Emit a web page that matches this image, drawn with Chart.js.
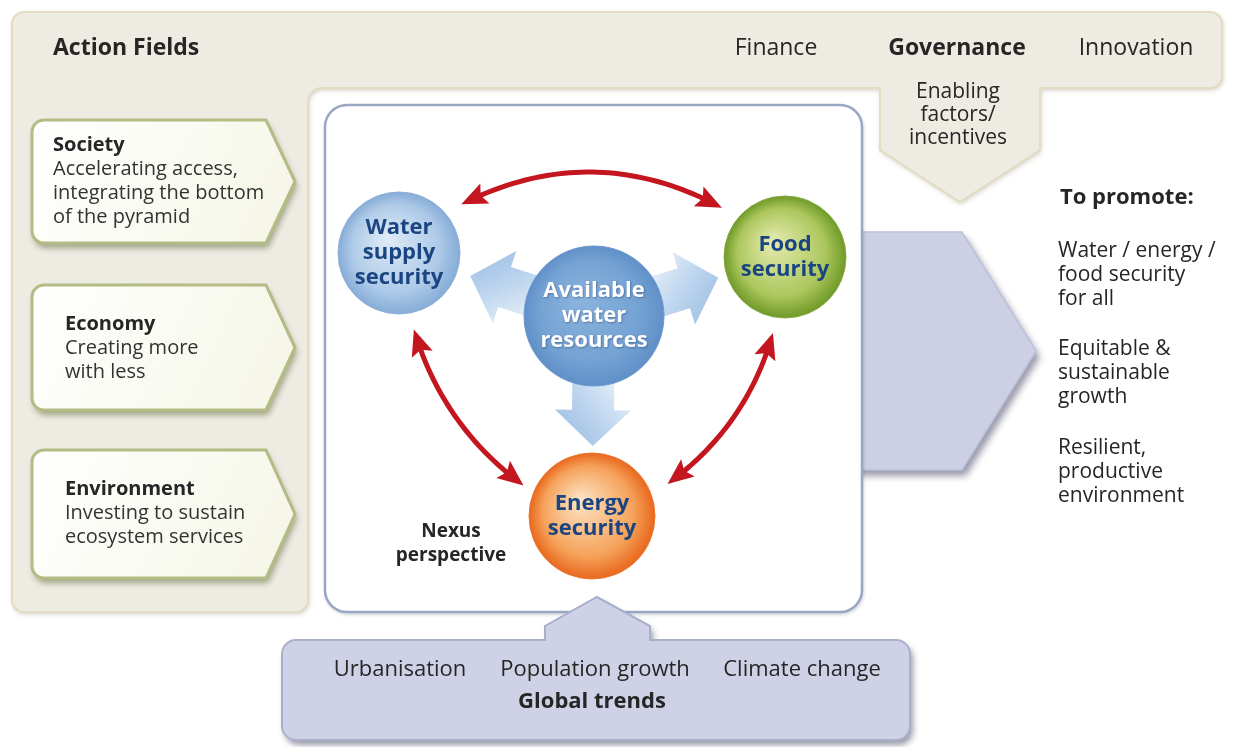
<!DOCTYPE html>
<html>
<head>
<meta charset="utf-8">
<script src="https://cdn.jsdelivr.net/npm/chart.js@4.4.1/dist/chart.umd.min.js"></script>
<style>
  html, body { margin: 0; padding: 0; background: #fff; }
  #wrap { width: 1234px; height: 747px; }
</style>
</head>
<body>
<div id="wrap"><canvas id="chart" width="1234" height="747"></canvas></div>
<script>
// Noeuds du nexus (bulles) : position dans le repère du schéma, rayon en px
const nodeNames = [["Water", "supply", "security"], ["Available", "water", "resources"], ["Food", "security"], ["Energy", "security"]];
const nodeX = [399, 594, 785, 592];
const nodeY = [253, 316, 257, 516];
const nodeR = [61, 70, 61, 63];
// doubles flèches rouges entre noeuds
const links = [[0, 2], [0, 3], [2, 3]];
// flèches pâles qui partent de la ressource en eau
const flows = [[1, 0], [1, 2], [1, 3]];

const headerTitle = "Action Fields";
const enablers = ["Finance", "Governance", "Innovation"];
const enablerNote = ["Enabling", "factors/", "incentives"];
const fieldTitles = ["Society", "Economy", "Environment"];
const fieldTexts = [["Accelerating access,", "integrating the bottom", "of the pyramid"], ["Creating more", "with less"], ["Investing to sustain", "ecosystem services"]];
const goalTitle = "To promote:";
const goals = [["Water / energy /", "food security", "for all"], ["Equitable &", "sustainable", "growth"], ["Resilient,", "productive", "environment"]];
const trends = ["Urbanisation", "Population growth", "Climate change"];
const trendTitle = "Global trends";
const nexusLabel = ["Nexus", "perspective"];

const FONT = '"Open Sans", "DejaVu Sans", sans-serif';
const TXT = '#262626';

// styles des bulles : centre clair -> bord
const nodeStops = [
  ['#dce9f6', '#aecae8', '#86acd7'],
  ['#8ab3dd', '#74a2d3', '#6090c8'],
  ['#e2e9ab', '#adc75e', '#6f9a28'],
  ['#fde0c0', '#f5a25a', '#e9671d']
];
const nodeText = ['#1a4580', '#ffffff', '#1a4580', '#1a4580'];
// extrémités des doubles flèches : angle (deg) et écart au bord de chaque bulle, courbure
const linkStyle = [
  { a0: -38, g0: 18, a1: 218, g1: 19, bend: -34 },
  { a0: 79, g0: 17, a1: 204, g1: 12, bend: 16 },
  { a0: 99, g0: 16, a1: -23, g1: 19, bend: -16 }
];

function X(chart, v) { return chart.scales.x.getPixelForValue(v); }
function Y(chart, v) { return chart.scales.y.getPixelForValue(v); }

function roundRect(ctx, x, y, w, h, r) {
  ctx.beginPath();
  ctx.moveTo(x + r, y);
  ctx.arcTo(x + w, y, x + w, y + h, r);
  ctx.arcTo(x + w, y + h, x, y + h, r);
  ctx.arcTo(x, y + h, x, y, r);
  ctx.arcTo(x, y, x + w, y, r);
  ctx.closePath();
}

function shadow(ctx, color, ox, oy, blur) {
  ctx.shadowColor = color; ctx.shadowOffsetX = ox; ctx.shadowOffsetY = oy; ctx.shadowBlur = blur;
}
function noShadow(ctx) { shadow(ctx, 'rgba(0,0,0,0)', 0, 0, 0); }

function text(ctx, s, x, y, size, bold, color, align) {
  ctx.font = (bold ? 'bold ' : '') + size + 'px ' + FONT;
  ctx.fillStyle = color;
  ctx.textAlign = align || 'left';
  ctx.textBaseline = 'middle';
  ctx.fillText(s, x, y);
}

function quad(p0, c, p2, t) {
  const u = 1 - t;
  return { x: u * u * p0.x + 2 * u * t * c.x + t * t * p2.x, y: u * u * p0.y + 2 * u * t * c.y + t * t * p2.y };
}

function head(ctx, tip, from, len, half) {
  const a = Math.atan2(tip.y - from.y, tip.x - from.x);
  const bx = tip.x - len * Math.cos(a), by = tip.y - len * Math.sin(a);
  ctx.beginPath();
  ctx.moveTo(tip.x, tip.y);
  ctx.lineTo(bx - half * Math.sin(a), by + half * Math.cos(a));
  ctx.lineTo(bx + len * 0.18 * Math.cos(a), by + len * 0.18 * Math.sin(a));
  ctx.lineTo(bx + half * Math.sin(a), by - half * Math.cos(a));
  ctx.closePath();
  ctx.fill();
}

const diagram = {
  id: 'diagram',
  beforeDatasetsDraw(chart) {
    const ctx = chart.ctx;
    const p = (x, y) => [X(chart, x), Y(chart, y)];
    ctx.save();

    // panneau beige en L (Action Fields)
    ctx.beginPath();
    const pts = [[1222, 88], [1040, 88], [1040, 150], [960, 202], [880, 150], [880, 88]];
    ctx.moveTo(...p(24, 12));
    ctx.arcTo(...p(1222, 12), ...p(1222, 88), 12);
    ctx.arcTo(...p(1222, 88), ...p(1040, 88), 12);
    pts.slice(1).forEach(q => ctx.lineTo(...p(q[0], q[1])));
    ctx.lineTo(...p(322, 88));
    ctx.arcTo(...p(308, 88), ...p(308, 612), 14);
    ctx.arcTo(...p(308, 612), ...p(12, 612), 12);
    ctx.arcTo(...p(12, 612), ...p(12, 12), 12);
    ctx.arcTo(...p(12, 12), ...p(1222, 12), 12);
    ctx.closePath();
    shadow(ctx, 'rgba(120,110,80,0.35)', 1, 2, 5);
    ctx.fillStyle = '#eeebe3';
    ctx.fill();
    noShadow(ctx);
    ctx.strokeStyle = '#e3dcc2';
    ctx.lineWidth = 2;
    ctx.stroke();

    // boîtes des champs d'action (pentagones)
    const boxes = [[120, 243], [285, 410], [450, 578]];
    boxes.forEach(b => {
      const top = b[0], bot = b[1], mid = (top + bot) / 2;
      ctx.beginPath();
      ctx.moveTo(...p(44, top));
      ctx.lineTo(...p(266, top));
      ctx.lineTo(...p(295, mid));
      ctx.lineTo(...p(266, bot));
      ctx.lineTo(...p(44, bot));
      ctx.arcTo(...p(32, bot), ...p(32, top), 12);
      ctx.arcTo(...p(32, top), ...p(266, top), 12);
      ctx.closePath();
      const g = ctx.createLinearGradient(X(chart, 32), Y(chart, top), X(chart, 295), Y(chart, bot));
      g.addColorStop(0, '#ffffff');
      g.addColorStop(1, '#f5f6e6');
      shadow(ctx, 'rgba(80,90,40,0.5)', 2, 5, 6);
      ctx.fillStyle = g;
      ctx.fill();
      noShadow(ctx);
      ctx.strokeStyle = '#b3bc84';
      ctx.lineWidth = 3;
      ctx.stroke();
    });

    // grande flèche grise vers "To promote"
    ctx.beginPath();
    ctx.moveTo(...p(850, 232));
    ctx.lineTo(...p(962, 232));
    ctx.lineTo(...p(1036, 351));
    ctx.lineTo(...p(962, 470));
    ctx.lineTo(...p(850, 470));
    ctx.closePath();
    shadow(ctx, 'rgba(70,70,100,0.55)', 4, 6, 7);
    ctx.fillStyle = '#cdd0e4';
    ctx.fill();
    noShadow(ctx);
    ctx.strokeStyle = '#bcc1da';
    ctx.lineWidth = 1.5;
    ctx.stroke();

    // cadre Nexus perspective
    roundRect(ctx, X(chart, 325), Y(chart, 105), X(chart, 862) - X(chart, 325), Y(chart, 612) - Y(chart, 105), 22);
    shadow(ctx, 'rgba(70,80,110,0.35)', 1, 2, 4);
    ctx.fillStyle = '#ffffff';
    ctx.fill();
    noShadow(ctx);
    ctx.strokeStyle = '#9aa7c3';
    ctx.lineWidth = 2.5;
    ctx.stroke();

    // boîte Global trends avec sa pointe
    ctx.beginPath();
    ctx.moveTo(...p(296, 640));
    ctx.lineTo(...p(545, 640));
    ctx.lineTo(...p(545, 626));
    ctx.lineTo(...p(597, 597));
    ctx.lineTo(...p(650, 626));
    ctx.lineTo(...p(650, 640));
    ctx.arcTo(...p(910, 640), ...p(910, 740), 14);
    ctx.arcTo(...p(910, 740), ...p(282, 740), 14);
    ctx.arcTo(...p(282, 740), ...p(282, 640), 14);
    ctx.arcTo(...p(282, 640), ...p(910, 640), 14);
    ctx.closePath();
    shadow(ctx, 'rgba(70,70,100,0.55)', 3, 5, 6);
    ctx.fillStyle = '#cfd2e6';
    ctx.fill();
    noShadow(ctx);
    ctx.strokeStyle = '#a9b0cc';
    ctx.lineWidth = 2;
    ctx.stroke();

    // flèches pâles depuis "Available water resources"
    flows.forEach(f => {
      const a = f[0], b = f[1];
      const cx = X(chart, nodeX[a]), cy = Y(chart, nodeY[a]);
      const dx = X(chart, nodeX[b]) - cx, dy = Y(chart, nodeY[b]) - cy;
      const d = Math.hypot(dx, dy), ux = dx / d, uy = dy / d, nx = -uy, ny = ux;
      const t0 = nodeR[a] - 4, t1 = nodeR[a] + 60, hl = 36, hw = 38, sw = 21;
      const pt = (t, s) => [cx + ux * t + nx * s, cy + uy * t + ny * s];
      ctx.beginPath();
      ctx.moveTo(...pt(t0, -sw));
      ctx.lineTo(...pt(t1 - hl, -sw));
      ctx.lineTo(...pt(t1 - hl, -hw));
      ctx.lineTo(...pt(t1, 0));
      ctx.lineTo(...pt(t1 - hl, hw));
      ctx.lineTo(...pt(t1 - hl, sw));
      ctx.lineTo(...pt(t0, sw));
      ctx.closePath();
      const g = ctx.createLinearGradient(...pt(t0, -hw), ...pt(t1, hw));
      g.addColorStop(0, '#eef4fb');
      g.addColorStop(0.5, '#bcd4ee');
      g.addColorStop(1, '#94b8e0');
      ctx.fillStyle = g;
      ctx.fill();
    });

    // doubles flèches rouges
    links.forEach((l, k) => {
      const s = linkStyle[k];
      const a = l[0], b = l[1];
      const ra = (s.a0 * Math.PI) / 180, rb = (s.a1 * Math.PI) / 180;
      const p0 = { x: X(chart, nodeX[a]) + (nodeR[a] + s.g0) * Math.cos(ra), y: Y(chart, nodeY[a]) + (nodeR[a] + s.g0) * Math.sin(ra) };
      const p2 = { x: X(chart, nodeX[b]) + (nodeR[b] + s.g1) * Math.cos(rb), y: Y(chart, nodeY[b]) + (nodeR[b] + s.g1) * Math.sin(rb) };
      const dx = p2.x - p0.x, dy = p2.y - p0.y, d = Math.hypot(dx, dy);
      const c = { x: (p0.x + p2.x) / 2 - (dy / d) * s.bend * 2, y: (p0.y + p2.y) / 2 + (dx / d) * s.bend * 2 };
      const t0 = 18 / d, t1 = 1 - t0;
      ctx.strokeStyle = '#c3161f';
      ctx.fillStyle = '#c3161f';
      ctx.lineWidth = 5;
      ctx.lineCap = 'round';
      ctx.beginPath();
      for (let i = 0; i <= 40; i++) {
        const q = quad(p0, c, p2, t0 + ((t1 - t0) * i) / 40);
        if (i === 0) ctx.moveTo(q.x, q.y); else ctx.lineTo(q.x, q.y);
      }
      ctx.stroke();
      head(ctx, p0, quad(p0, c, p2, t0 * 1.3), 26, 11);
      head(ctx, p2, quad(p0, c, p2, 1 - t0 * 1.3), 26, 11);
    });

    ctx.restore();
  },
  afterDatasetsDraw(chart) {
    const ctx = chart.ctx;
    ctx.save();

    // en-tête
    text(ctx, headerTitle, X(chart, 53), Y(chart, 48), 23, true, TXT);
    const hx = [776, 957, 1136];
    enablers.forEach((s, i) => text(ctx, s, X(chart, hx[i]), Y(chart, 48), 23, i === 1, TXT, 'center'));
    enablerNote.forEach((s, i) => text(ctx, s, X(chart, 958), Y(chart, 92 + i * 23), 21, false, TXT, 'center'));

    // champs d'action
    const tops = [145, 324, 489];
    fieldTitles.forEach((t, i) => {
      const x = X(chart, i === 0 ? 53 : 65);
      text(ctx, t, x, Y(chart, tops[i]), 20, true, TXT);
      fieldTexts[i].forEach((s, j) => text(ctx, s, x, Y(chart, tops[i] + 24 + j * 24), 20, false, '#333333'));
    });

    // textes des bulles
    nodeNames.forEach((lines, i) => {
      const cx = X(chart, nodeX[i]), cy = Y(chart, nodeY[i]);
      const lh = 25, y0 = cy - ((lines.length - 1) * lh) / 2;
      if (i === 1) shadow(ctx, 'rgba(40,70,120,0.5)', 1, 1, 2);
      lines.forEach((s, j) => text(ctx, s, cx, y0 + j * lh, 22, true, nodeText[i], 'center'));
      noShadow(ctx);
    });

    nexusLabel.forEach((s, i) => text(ctx, s, X(chart, 451), Y(chart, 532 + i * 24), 19, true, TXT, 'center'));

    // To promote
    text(ctx, goalTitle, X(chart, 1060), Y(chart, 198), 22, true, TXT);
    const gy = [251, 349, 448];
    goals.forEach((g, i) => g.forEach((s, j) => text(ctx, s, X(chart, 1058), Y(chart, gy[i] + j * 24), 21, false, TXT)));

    // Global trends
    const tx = [400, 595, 802];
    trends.forEach((s, i) => text(ctx, s, X(chart, tx[i]), Y(chart, 670), 22, false, TXT, 'center'));
    text(ctx, trendTitle, X(chart, 592), Y(chart, 702), 22, true, TXT, 'center');

    ctx.restore();
  }
};

new Chart(document.getElementById('chart'), {
  type: 'bubble',
  data: {
    datasets: [{
      data: nodeX.map((x, i) => ({ x: x, y: nodeY[i], r: nodeR[i] })),
      backgroundColor(c) {
        const chart = c.chart, i = c.dataIndex;
        if (i === undefined || !chart.chartArea) return '#8fb4de';
        const x = X(chart, nodeX[i]), y = Y(chart, nodeY[i]), r = nodeR[i];
        const g = chart.ctx.createRadialGradient(x - r * 0.2, y - r * 0.25, r * 0.05, x, y, r);
        g.addColorStop(0, nodeStops[i][0]);
        g.addColorStop(0.7, nodeStops[i][1]);
        g.addColorStop(1, nodeStops[i][2]);
        return g;
      },
      borderColor: ['#8db0d8', '#6d9bcd', '#86a944', '#ec7a34'],
      borderWidth: 1,
      hoverRadius: 0
    }]
  },
  options: {
    responsive: false,
    animation: false,
    events: [],
    layout: { padding: 0, autoPadding: false },
    scales: {
      x: { type: 'linear', min: 0, max: 1234, display: false },
      y: { type: 'linear', min: 0, max: 747, reverse: true, display: false }
    },
    plugins: { legend: { display: false }, tooltip: { enabled: false } }
  },
  plugins: [diagram]
});
</script>
</body>
</html>
